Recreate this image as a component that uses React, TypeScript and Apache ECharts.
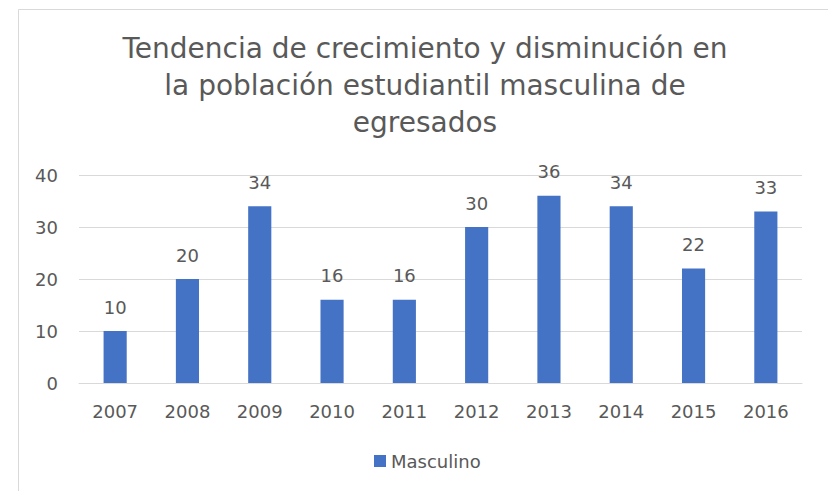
import React, { useEffect, useRef } from "react";
import * as echarts from "echarts";

const titleLines = [
  "Tendencia de crecimiento y disminución en",
  "la población estudiantil masculina de",
  "egresados",
];
const categories = ["2007", "2008", "2009", "2010", "2011", "2012", "2013", "2014", "2015", "2016"];
const seriesName = "Masculino";
const values = [10, 20, 34, 16, 16, 30, 36, 34, 22, 33];
const yTicks = { min: 0, max: 40, interval: 10 };

const FONT = "DejaVu Sans";
const TEXT = "#595959";
const GRID = "#d9d9d9";
const BAR = "#4472C4";

export default function App() {
  const ref = useRef<HTMLDivElement>(null);
  useEffect(() => {
    if (!ref.current) return;
    const chart = echarts.init(ref.current, undefined, { renderer: "svg" });
    chart.setOption({
      animation: false,
      backgroundColor: "#ffffff",
      graphic: [
        {
          type: "rect",
          shape: { x: 18.5, y: 9.5, width: 900, height: 600 },
          style: { fill: "none", stroke: GRID, lineWidth: 1 },
          silent: true,
          z: -1,
        },
      ],
      title: {
        text: titleLines.join("\n"),
        left: 425,
        top: 30,
        textAlign: "center",
        padding: 0,
        textStyle: {
          fontFamily: FONT,
          fontSize: 28,
          fontWeight: "normal",
          color: TEXT,
          lineHeight: 37,
        },
      },
      legend: {
        data: [seriesName],
        left: 374,
        top: 452,
        padding: 0,
        itemWidth: 12,
        itemHeight: 12,
        icon: "rect",
        textStyle: { fontFamily: FONT, fontSize: 18, color: TEXT },
      },
      grid: { left: 79, right: 26, top: 175, bottom: 108, containLabel: false },
      xAxis: {
        type: "category",
        data: categories,
        axisLine: { show: true, lineStyle: { color: GRID, width: 1 } },
        axisTick: { show: false },
        axisLabel: { fontFamily: FONT, fontSize: 18, color: TEXT, margin: 19 },
      },
      yAxis: {
        type: "value",
        min: yTicks.min,
        max: yTicks.max,
        interval: yTicks.interval,
        axisLine: { show: false },
        axisTick: { show: false },
        splitLine: { lineStyle: { color: GRID, width: 1 } },
        axisLabel: { fontFamily: FONT, fontSize: 18, color: TEXT, margin: 21 },
      },
      series: [
        {
          name: seriesName,
          type: "bar",
          data: values,
          barWidth: "32%",
          itemStyle: { color: BAR },
          label: {
            show: true,
            position: "top",
            distance: 15,
            fontFamily: FONT,
            fontSize: 18,
            color: TEXT,
          },
        },
      ],
    });
    return () => chart.dispose();
  }, []);
  return (
    <div
      ref={ref}
      style={{ position: "absolute", left: 0, top: 0, width: 828, height: 491 }}
    />
  );
}
